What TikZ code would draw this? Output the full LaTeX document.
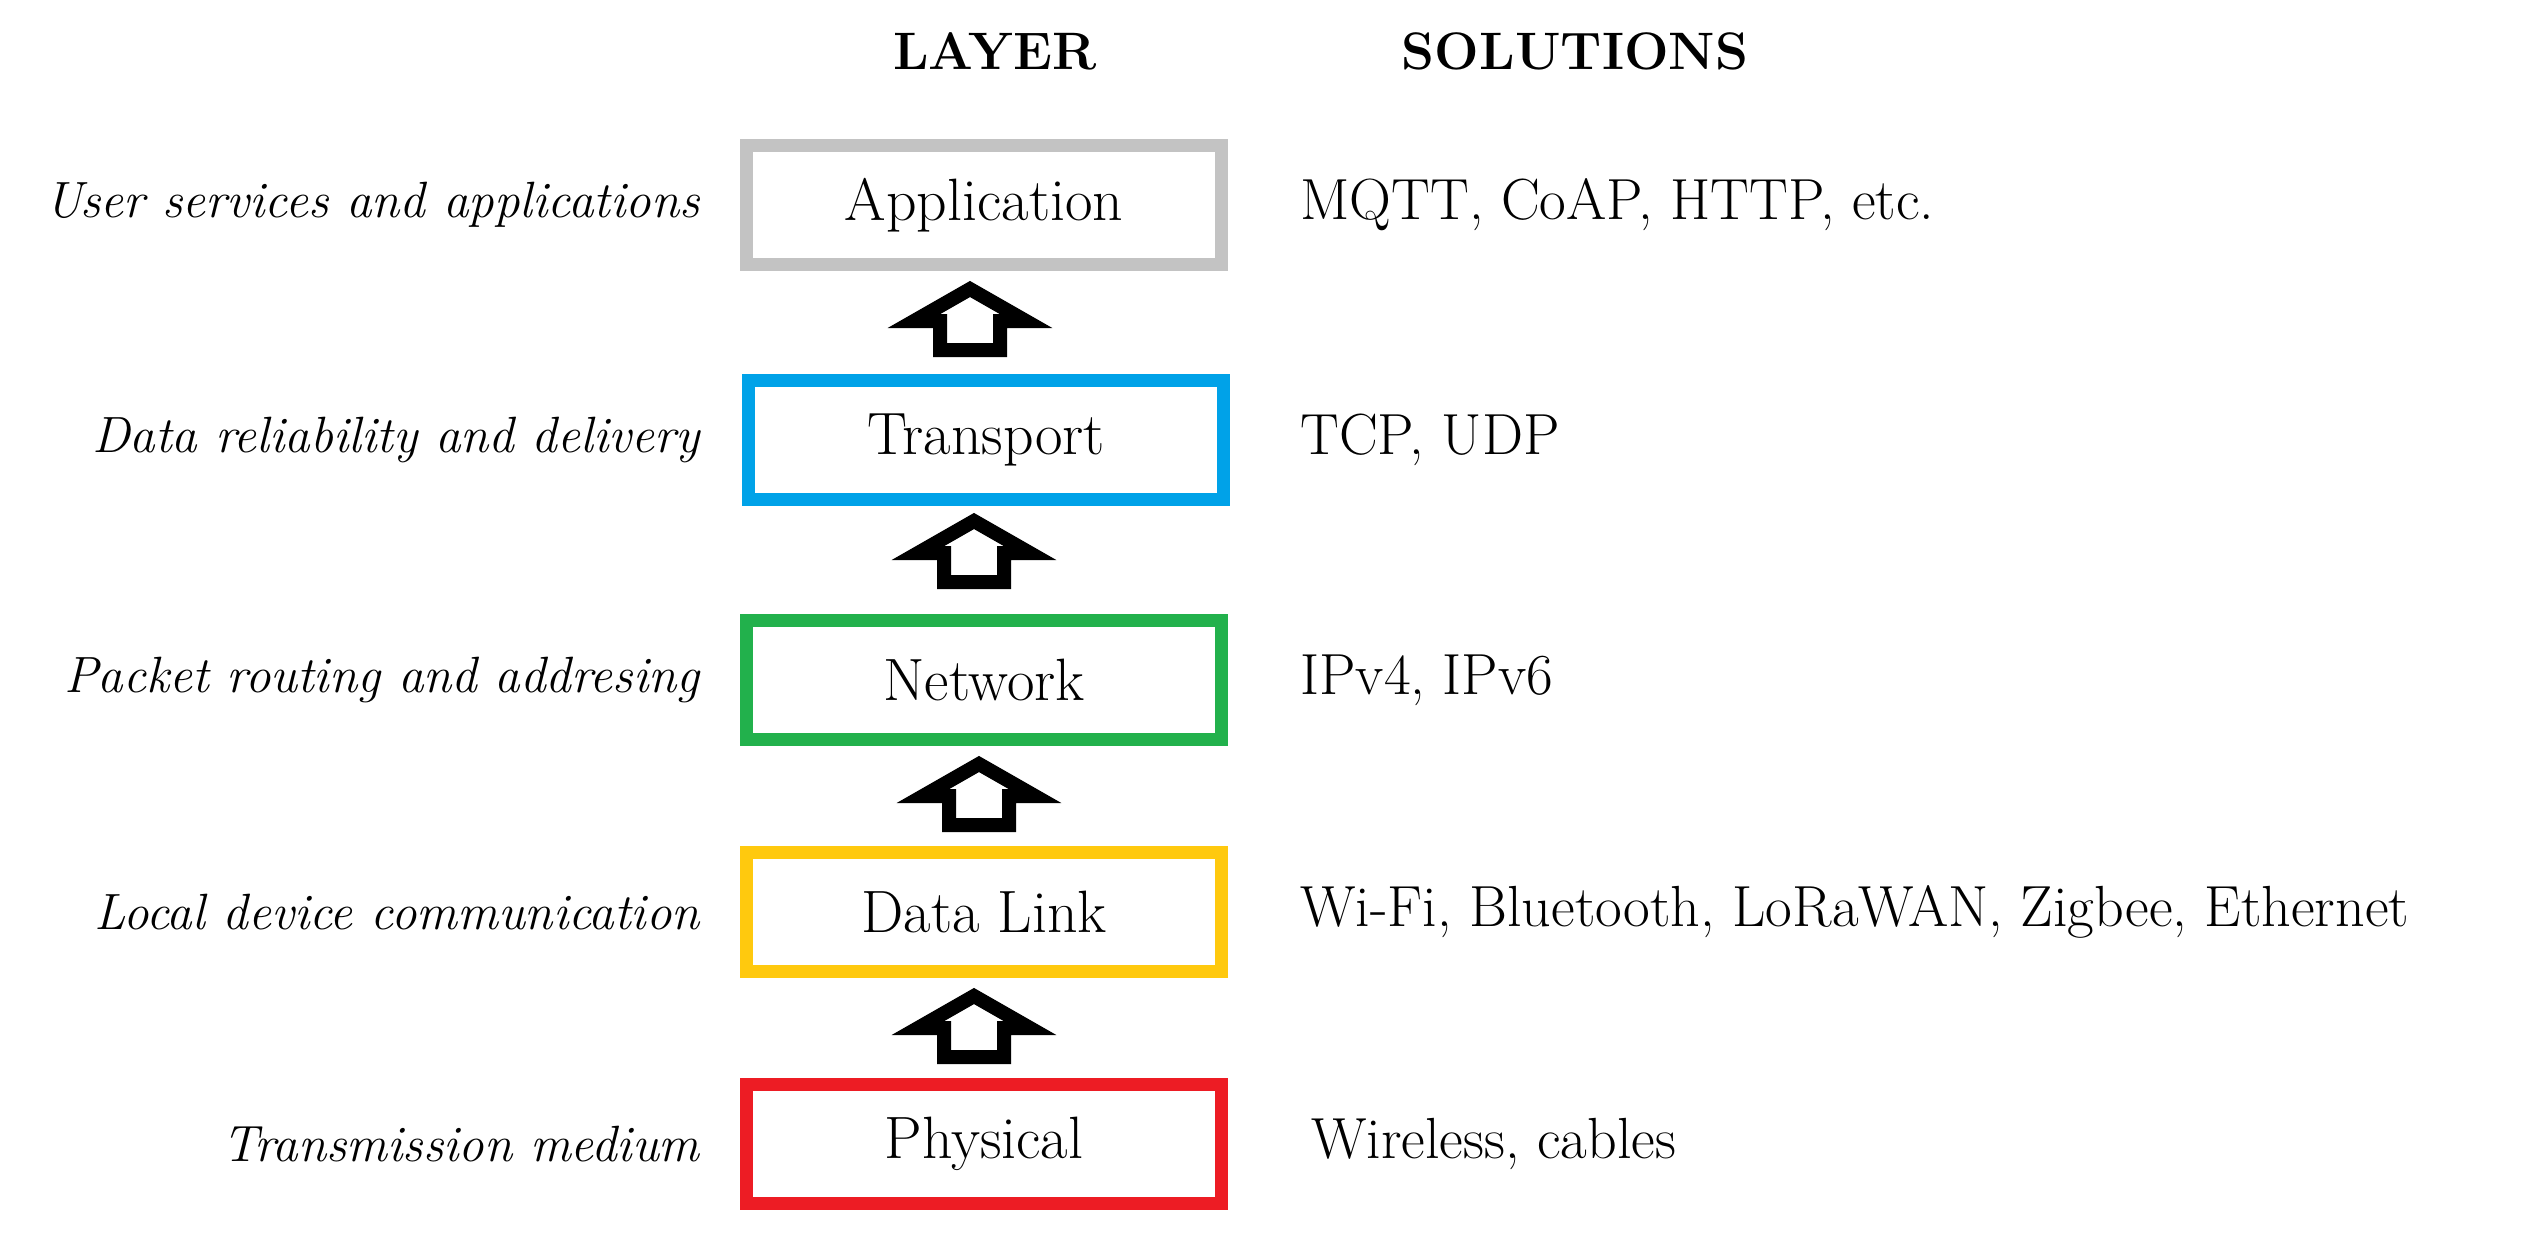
\documentclass[tikz,border=0pt]{standalone}
\begin{document}
\begin{tikzpicture}[x=0.01cm,y=-0.01cm,
  box/.style={draw=#1,line width=0.13cm,minimum width=4.75cm,minimum height=1.18cm,inner sep=0pt,font=\fontsize{17}{20}\selectfont},
  lab/.style={anchor=east,font=\fontsize{14.5}{18}\selectfont\itshape},
  sol/.style={anchor=west,font=\fontsize{16.5}{20}\selectfont},
  hd/.style={font=\fontsize{15}{18}\selectfont\bfseries},
  blk/.style={draw=black,fill=white,line width=0.14cm,line join=miter}]
\definecolor{cgray}{HTML}{C3C3C3}
\definecolor{cblue}{HTML}{00A2E8}
\definecolor{cgreen}{HTML}{22B14C}
\definecolor{cyellow}{HTML}{FFC90E}
\definecolor{cred}{HTML}{ED1C24}
\useasboundingbox (0,0) rectangle (2541,1233);
\node[hd] (hl) at (995,51) {LAYER};
\node[hd] (hs) at (1575,51) {SOLUTIONS};
\node[box=cgray] (app) at (984,205) {Application};
\node[box=cblue] (tra) at (986,440) {Transport};
\node[box=cgreen] (net) at (984,680) {Network};
\node[box=cyellow] (dl) at (984,912) {Data Link};
\node[box=cred] (phy) at (984,1144) {Physical};
\node[lab] (l1) at (712,205) {User services and applications};
\node[lab] (l2) at (712,440) {Data reliability and delivery};
\node[lab] (l3) at (712,680) {Packet routing and addresing};
\node[lab] (l4) at (712,912) {Local device communication};
\node[lab] (l5) at (712,1144) {Transmission medium};
\node[sol] (s1) at (1288,205) {MQTT, CoAP, HTTP, etc.};
\node[sol] (s2) at (1288,440) {TCP, UDP};
\node[sol] (s3) at (1288,680) {IPv4, IPv6};
\node[sol] (s4) at (1288,912) {Wi-Fi, Bluetooth, LoRaWAN, Zigbee, Ethernet};
\node[sol] (s5) at (1299,1144) {Wireless, cables};
\foreach \cx/\ty in {970/281, 974/513, 979/756, 974/988}{
  \draw[blk] (\cx,\ty+8) -- (\cx+56,\ty+40) -- (\cx+30,\ty+40) -- (\cx+30,\ty+69) -- (\cx-30,\ty+69) -- (\cx-30,\ty+40) -- (\cx-56,\ty+40) -- cycle;
}
\end{tikzpicture}
\end{document}
